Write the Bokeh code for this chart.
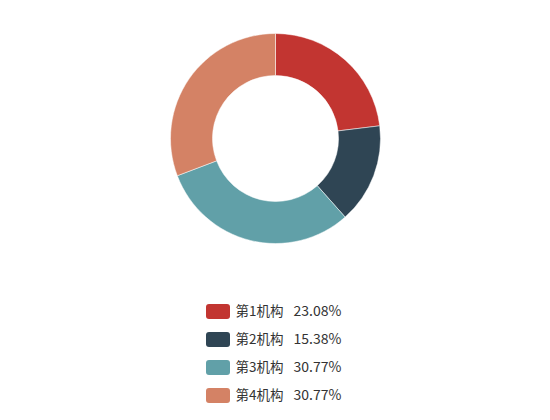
import math
from bokeh.plotting import figure
from bokeh.models import Range1d, ColumnDataSource
from bokeh.core.properties import value
from bokeh.embed import file_html
from bokeh.resources import INLINE

categories = ["第1机构", "第2机构", "第3机构", "第4机构"]
values = [3, 2, 4, 4]
percent_labels = ["23.08%", "15.38%", "30.77%", "30.77%"]
colors = ["#c23531", "#2f4554", "#61a0a8", "#d48265"]

W, H = 534, 412
p = figure(width=W, height=H, output_backend="svg", toolbar_location=None,
           x_range=Range1d(0, W), y_range=Range1d(0, H), min_border=0)
p.axis.visible = False
p.grid.visible = False
p.outline_line_color = None
p.background_fill_color = "white"
p.border_fill_color = "white"

total = float(sum(values))
starts, ends = [], []
cum = 0.0
for v in values:
    s = math.pi / 2 - 2 * math.pi * cum / total
    cum += v
    e = math.pi / 2 - 2 * math.pi * cum / total
    starts.append(s)
    ends.append(e)

cx, cy = 275, H - 138
src = ColumnDataSource(dict(start=starts, end=ends, color=colors,
                            x=[cx] * 4, y=[cy] * 4))
p.annular_wedge(x="x", y="y", inner_radius=63, outer_radius=105,
                start_angle="start", end_angle="end", direction="clock",
                fill_color="color", line_color="white", line_width=0.5,
                source=src)

# legend
row_y = [H - (311 + 28 * i) for i in range(len(categories))]
text_y = [y + 1.5 for y in row_y]
leg = ColumnDataSource(dict(y=row_y, ty=text_y, color=colors, cat=categories,
                            pct=percent_labels,
                            rx=[217.5] * 4, tx=[235] * 4, px=[293] * 4))
p.rect(x="rx", y="y", width=24, height=15, fill_color="color", line_color=None,
       border_radius=3, source=leg)
p.text(x="tx", y="ty", text="cat", text_font=value("Noto Sans CJK SC"),
       text_font_size="13.5px", text_color="#333333", text_baseline="middle",
       text_align="left", source=leg)
p.text(x="px", y="ty", text="pct", text_font=value("Noto Sans CJK SC"),
       text_font_size="14px", text_color="#333333", text_baseline="middle",
       text_align="left", source=leg)

open("out.html", "w").write(file_html(p, INLINE))
